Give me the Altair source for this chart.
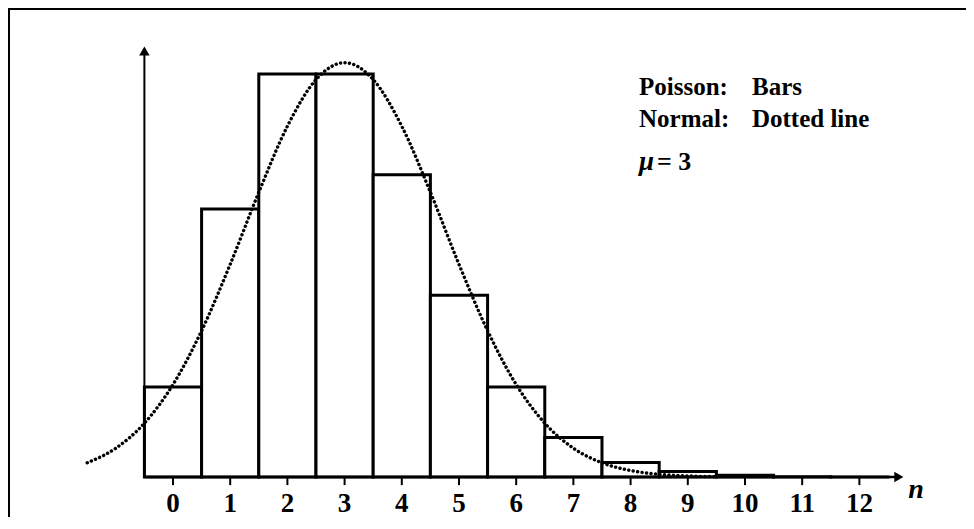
import altair as alt
import pandas as pd

# ---- data ----
n_vals = [0, 1, 2, 3, 4, 5, 6, 7, 8, 9, 10, 11, 12]
poisson_p = [0.050, 0.149, 0.224, 0.224, 0.168, 0.101, 0.050, 0.022,
             0.008, 0.003, 0.001, 0.0002, 0.00005]
curve_x = [-1.5, -1.0, -0.5, 0.0, 0.5, 1.0, 1.5, 2.0, 2.5, 3.0, 3.5, 4.0,
           4.5, 5.0, 5.5, 6.0, 6.5, 7.0, 7.5, 8.0, 8.5, 9.0, 9.5]
curve_y = [0.0079, 0.0160, 0.0299, 0.0514, 0.0813, 0.1182, 0.1583, 0.1950,
           0.2209, 0.2303, 0.2209, 0.1950, 0.1583, 0.1182, 0.0813, 0.0514,
           0.0299, 0.0160, 0.0079, 0.0036, 0.0015, 0.0006, 0.0002]
tick_labels = ["0", "1", "2", "3", "4", "5", "6", "7", "8", "9", "10", "11", "12"]

bars_df = pd.DataFrame({
    "lo": [n - 0.5 for n in n_vals],
    "hi": [n + 0.5 for n in n_vals],
    "base": [0.0] * len(n_vals),
    "p": poisson_p,
})
curve_df = pd.DataFrame({"x": curve_x, "y": curve_y})
ticks_df = pd.DataFrame({"n": n_vals, "label": tick_labels})
one = pd.DataFrame({"k": [0]})

W, H = 958, 509
X0, X1 = -2.8846, 13.864
Y0, Y1 = -0.02223, 0.26070
xs = alt.Scale(domain=[X0, X1], nice=False, zero=False)
ys = alt.Scale(domain=[Y0, Y1], nice=False, zero=False)
FONT = "Liberation Serif"

def XD(v):
    return alt.XDatum(v, scale=xs, axis=None)

def YD(v):
    return alt.YDatum(v, scale=ys, axis=None)

bars = alt.Chart(bars_df).mark_rect(fill="white", stroke="black", strokeWidth=3).encode(
    x=alt.X("lo:Q", scale=xs, axis=None),
    x2="hi:Q",
    y=alt.Y("base:Q", scale=ys, axis=None),
    y2="p:Q",
)

curve = alt.Chart(curve_df).mark_line(
    stroke="black", strokeWidth=3.4, strokeDash=[0.1, 4.4], strokeCap="round",
    interpolate="monotone",
).encode(
    x=alt.X("x:Q", scale=xs, axis=None),
    y=alt.Y("y:Q", scale=ys, axis=None),
)

x_axis = alt.Chart(one).mark_rule(color="black", strokeWidth=2.5).encode(
    x=XD(-0.5), x2=alt.X2Datum(12.69), y=YD(0)
)
y_axis = alt.Chart(one).mark_rule(color="black", strokeWidth=2).encode(
    x=XD(-0.5), y=YD(0), y2=alt.Y2Datum(0.2368)
)
x_arrow = alt.Chart(one).mark_point(shape="triangle-right", filled=True, color="black",
                                    opacity=1, size=110).encode(x=XD(12.69), y=YD(0))
y_arrow = alt.Chart(one).mark_point(shape="triangle-up", filled=True, color="black",
                                    opacity=1, size=110).encode(x=XD(-0.5), y=YD(0.2368))

ticks = alt.Chart(ticks_df).mark_rule(color="black", strokeWidth=2).encode(
    x=alt.X("n:Q", scale=xs, axis=None), y=YD(0), y2=alt.Y2Datum(-0.0045)
)
tick_text = alt.Chart(ticks_df).mark_text(
    font=FONT, fontWeight="bold", fontSize=27, align="center", baseline="alphabetic", color="black"
).encode(
    x=alt.X("n:Q", scale=xs, axis=None), y=YD(-0.0192), text="label:N"
)

def txt(s, x, y, style="normal", size=25, align="left"):
    return alt.Chart(one).mark_text(
        font=FONT, fontWeight="bold", fontStyle=style, fontSize=size,
        align=align, baseline="alphabetic", color="black"
    ).encode(x=XD(x), y=YD(y), text=alt.value(s))

n_label = txt("n", 12.99, -0.0117, style="italic", size=28, align="center")
ann = [
    txt("Poisson:", 8.147, 0.2123), txt("Bars", 10.122, 0.2123),
    txt("Normal:", 8.147, 0.1946), txt("Dotted line", 10.122, 0.1946),
    txt("\u03bc", 8.147, 0.1707, style="italic", size=27), txt("= 3", 8.462, 0.1707, size=26),
]

frame_left = alt.Chart(one).mark_rule(color="black", strokeWidth=2).encode(
    x=XD(-2.867), y=YD(Y0), y2=alt.Y2Datum(Y1)
)
frame_top = alt.Chart(one).mark_rule(color="black", strokeWidth=2).encode(
    x=XD(X0), x2=alt.X2Datum(X1), y=YD(0.2601)
)

chart = alt.layer(
    bars, curve, x_axis, y_axis, ticks, x_arrow, y_arrow, tick_text, n_label,
    *ann, frame_left, frame_top
).properties(
    width=W, height=H, autosize=alt.AutoSizeParams(type="none"), padding=0,
    background="white",
).configure_view(stroke="transparent", strokeWidth=0)

chart.save("out.html", embed_options={"renderer": "svg", "actions": False})
